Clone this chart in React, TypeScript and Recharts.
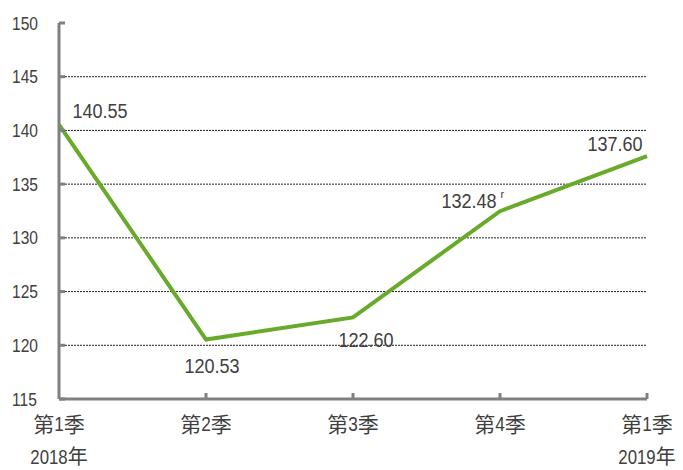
import { LineChart, Line, XAxis, YAxis, CartesianGrid, LabelList } from 'recharts';

const quarters = ['第1季', '第2季', '第3季', '第4季', '第1季'];
const years = ['2018年', '', '', '', '2019年'];
const values = [140.55, 120.53, 122.6, 132.48, 137.6];
const valueLabels = ['140.55', '120.53', '122.60', '132.48', '137.60'];
const revisedMarks = ['', '', '', 'r', ''];
const yTicks = [115, 120, 125, 130, 135, 140, 145, 150];
const gridValues = [120, 125, 130, 135, 140, 145];

// label offsets from each point (style only)
const labelOffsets = [
  [41, -14],
  [6, 26],
  [13, 22],
  [-31, -11],
  [-32, -13],
];

const data = quarters.map((q, i) => ({ quarter: q, value: values[i] }));

const LATIN = "'Liberation Sans', Arial, sans-serif";
// latin font first keeps the line box compact, CJK glyphs fall back
const CJK_FONT = "'Liberation Sans', 'Noto Sans CJK TC', 'Noto Sans CJK SC', sans-serif";
const TEXT = '#404040';
const AXIS = '#808080';
const GREEN = '#6aaa2a';

const isCjk = (ch: string) => /[\u3000-\u9fff\uff00-\uffef]/.test(ch);
const glyphW = (ch: string) => (ch === '.' ? 0.278 : 0.556);

// narrow-looking latin digits next to normal width CJK glyphs
function MixedText({ text, x, y, size, sx, anchor = 'middle' }: any) {
  const runs: { t: string; cjk: boolean }[] = [];
  for (const ch of text) {
    const c = isCjk(ch);
    const last = runs[runs.length - 1];
    if (last && last.cjk === c) last.t += ch;
    else runs.push({ t: ch, cjk: c });
  }
  const width = (r: { t: string; cjk: boolean }) =>
    r.cjk ? r.t.length * size : [...r.t].reduce((s, ch) => s + glyphW(ch), 0) * size * sx;
  const total = runs.reduce((s, r) => s + width(r), 0);
  let cursor = anchor === 'middle' ? x - total / 2 : anchor === 'end' ? x - total : x;
  return (
    <g>
      {runs.map((r, i) => {
        const cx = cursor;
        cursor += width(r);
        return r.cjk ? (
          <text key={i} x={cx} y={y} dominantBaseline="central" fontSize={size} fill={TEXT} fontFamily={CJK_FONT}>
            {r.t}
          </text>
        ) : (
          <text
            key={i}
            transform={`translate(${cx},${y}) scale(${sx},1)`}
            x={0}
            y={0}
            dominantBaseline="central"
            fontSize={size}
            fill={TEXT}
            fontFamily={LATIN}
          >
            {r.t}
          </text>
        );
      })}
    </g>
  );
}

function YTick(props: any) {
  const { x, y, payload } = props;
  return (
    <g>
      <line x1={x} x2={x + 6} y1={y} y2={y} stroke={AXIS} strokeWidth={3} />
      <MixedText text={String(payload.value)} x={38} y={y} size={19} sx={0.82} anchor="end" />
    </g>
  );
}

function XTick(props: any) {
  const { x, y, payload, index } = props;
  const i = payload.index ?? index;
  return (
    <g>
      {i > 0 && <line x1={x} x2={x} y1={y} y2={y - 6} stroke={AXIS} strokeWidth={3} />}
      <MixedText text={quarters[i]} x={x} y={y + 25} size={21} sx={0.82} />
      {years[i] && <MixedText text={years[i]} x={x} y={y + 58} size={20} sx={0.84} />}
    </g>
  );
}

function ValueLabel(props: any) {
  const { x, y, index } = props;
  const [dx, dy] = labelOffsets[index];
  const cx = x + dx;
  const cy = y + dy;
  const w = [...valueLabels[index]].reduce((s, ch) => s + glyphW(ch), 0) * 21 * 0.86;
  return (
    <g>
      <MixedText text={valueLabels[index]} x={cx} y={cy} size={21} sx={0.86} />
      {revisedMarks[index] && (
        <text x={cx + w / 2 + 4} y={cy - 6} dominantBaseline="central" fontSize={11} fill={TEXT} fontFamily={LATIN}>
          {revisedMarks[index]}
        </text>
      )}
    </g>
  );
}

export default function App() {
  return (
    <div style={{ position: 'absolute', left: 0, top: 0, background: '#fff' }}>
      <LineChart width={683} height={470} data={data} margin={{ top: 23, right: 36, bottom: 11, left: 0 }}>
        <CartesianGrid
          horizontal
          vertical={false}
          horizontalValues={gridValues}
          stroke="#222"
          strokeDasharray="2 1"
        />
        <XAxis
          dataKey="quarter"
          padding={{ left: 0, right: 0 }}
          height={60}
          tickSize={0}
          tickMargin={0}
          tickLine={false}
          axisLine={{ stroke: AXIS, strokeWidth: 3 }}
          tick={<XTick />}
          interval={0}
        />
        <YAxis
          domain={[115, 150]}
          ticks={yTicks}
          width={59}
          tickSize={0}
          tickMargin={0}
          tickLine={false}
          axisLine={{ stroke: AXIS, strokeWidth: 3 }}
          tick={<YTick />}
          interval={0}
        />
        <Line
          type="linear"
          dataKey="value"
          stroke={GREEN}
          strokeWidth={4}
          dot={false}
          isAnimationActive={false}
        >
          <LabelList dataKey="value" content={<ValueLabel />} />
        </Line>
      </LineChart>
    </div>
  );
}
